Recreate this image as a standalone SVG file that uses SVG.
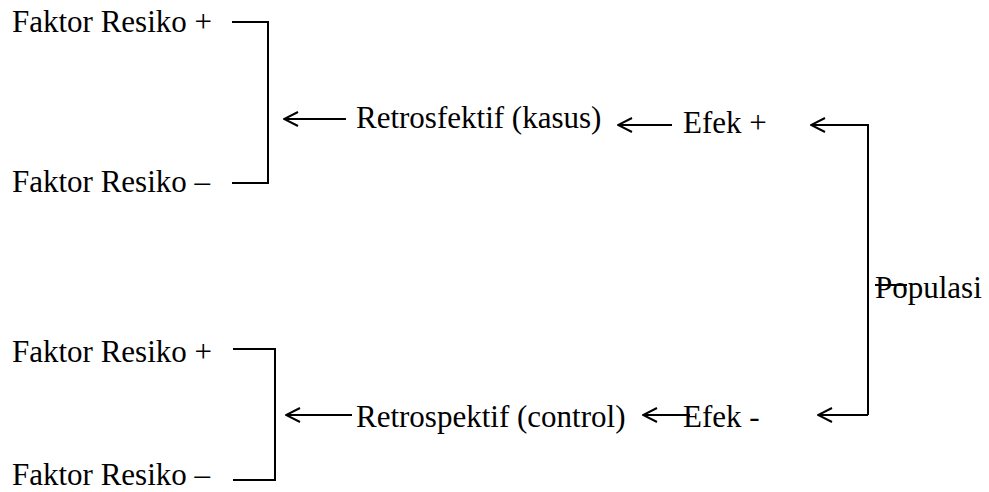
<svg xmlns="http://www.w3.org/2000/svg" width="989" height="492" viewBox="0 0 989 492" font-family="'Liberation Serif', 'Times New Roman', Times, serif">
<style>
text{font-family:'Liberation Serif','Times New Roman',Times,serif;font-size:31px;fill:#000}
.ln{stroke:#000;stroke-width:2;fill:none}
</style>
<defs>
<marker id="ah" viewBox="0 0 16 16" refX="15" refY="8" markerWidth="16" markerHeight="16" markerUnits="userSpaceOnUse" orient="auto">
<path d="M1 1 L15 8 L1 15" fill="none" stroke="#000" stroke-width="2"/>
</marker>
</defs>
<rect width="989" height="492" fill="#fff"/>
<g id="fr1"><text x="12" y="32">Faktor Resiko +</text></g>
<g id="fr2"><text x="12" y="192">Faktor Resiko –</text></g>
<g id="retro-kasus"><text x="356" y="128">Retrosfektif (kasus)</text></g>
<g id="efek-plus"><text x="683" y="133">Efek +</text></g>
<g id="populasi"><text x="875" y="298">Populasi</text><line class="ln" x1="875" y1="285" x2="907" y2="285" stroke-width="1.5"/></g>
<g id="fr3"><text x="12" y="362">Faktor Resiko +</text></g>
<g id="fr4"><text x="12" y="485">Faktor Resiko –</text></g>
<g id="retro-control"><text x="356" y="427">Retrospektif (control)</text></g>
<g id="efek-minus"><text x="683" y="427">Efek -</text></g>
<g id="connectors">
<polyline class="ln" points="232,22 268,22 268,183 232,183"/>
<polyline class="ln" points="233,349 275,349 275,480 233,480"/>
<line class="ln" x1="346" y1="119" x2="284" y2="119" marker-end="url(#ah)"/>
<line class="ln" x1="672" y1="125" x2="618" y2="125" marker-end="url(#ah)"/>
<polyline class="ln" points="868,415 868,125 811,125" marker-end="url(#ah)"/>
<line class="ln" x1="868" y1="415" x2="818" y2="415" marker-end="url(#ah)"/>
<line class="ln" x1="352" y1="415" x2="286" y2="415" marker-end="url(#ah)"/>
<line class="ln" x1="690" y1="415" x2="643" y2="415" marker-end="url(#ah)"/>
</g>
</svg>
